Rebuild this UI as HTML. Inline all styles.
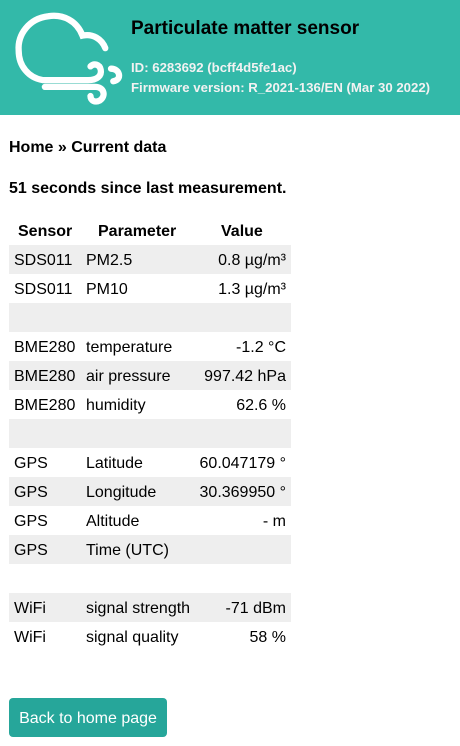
<!DOCTYPE html>
<html><head><meta charset="utf-8"><style>
*{margin:0;padding:0;box-sizing:border-box}
body{width:460px;height:746px;background:#fff;font-family:"Liberation Sans",sans-serif;color:#000;position:relative;overflow:hidden}
.hdr{position:absolute;left:0;top:0;width:460px;height:115px;background:#33b9a9}
.t{position:absolute;white-space:nowrap}
.row{position:absolute;left:9px;width:282px;height:29px}
.g{background:#eee}
.c{position:absolute;top:7px;font-size:16px;white-space:nowrap}
.c1{left:5px}.c2{left:77px}.c3{right:5px}
</style></head><body>
<div class="hdr">
<svg style="position:absolute;left:0;top:0" width="125" height="115" viewBox="0 0 125 115">
<g fill="none" stroke="#fff" stroke-width="5.5" stroke-linecap="round" transform="translate(-3,-2) scale(1.14)">
<path d="M95 44 C92 36 84 31 75 33 C70 20 58 14 45 16 C28 18 18 32 19 46 C19 60 28 70 40 72 L80 72 C88 72 92 68 91 63 C90 58 85 57 82 60"/>
<path d="M42 78 L86 78 C94 78 96 86 90 90 C86 92 82 90 82 86"/>
<path d="M100 62 C108 62 110 72 102 73"/>
</g></svg>
<div class="t" style="left:131px;top:18px;font-size:19px;font-weight:bold">Particulate matter sensor</div>
<div class="t" style="left:131px;top:60px;font-size:13.2px;font-weight:bold;color:#f2f2f2">ID: 6283692 (bcff4d5fe1ac)</div>
<div class="t" style="left:131px;top:80px;font-size:13.2px;font-weight:bold;color:#f2f2f2">Firmware version: R_2021-136/EN (Mar 30 2022)</div>
</div>
<div class="t" style="left:9px;top:139px;font-size:16px;font-weight:bold">Home » Current data</div>
<div class="t" style="left:9px;top:180px;font-size:16px;font-weight:bold">51 seconds since last measurement.</div>
<div class="row" style="top:216px">
<div class="c" style="left:9px;font-weight:bold">Sensor</div>
<div class="c" style="left:89px;font-weight:bold">Parameter</div>
<div class="c" style="left:212px;font-weight:bold">Value</div>
</div>
<div id="tbl"></div>
<div class="t" style="left:9px;top:698px;width:158px;height:39px;background:#26a69a;border-radius:4px;color:#fff;font-size:16px;line-height:41px;text-align:center">Back to home page</div>
<script>
const sensors=["SDS011","SDS011","","BME280","BME280","BME280","","GPS","GPS","GPS","GPS","","WiFi","WiFi"];
const params=["PM2.5","PM10","","temperature","air pressure","humidity","","Latitude","Longitude","Altitude","Time (UTC)","","signal strength","signal quality"];
const values=["0.8 µg/m³","1.3 µg/m³","","-1.2 °C","997.42 hPa","62.6 %","","60.047179 °","30.369950 °","- m","","","-71 dBm","58 %"];
const tbl=document.getElementById('tbl');
sensors.forEach((s,i)=>{
const r=document.createElement('div');
r.className='row'+(i%2==0?' g':'');
r.style.top=(245+i*29)+'px';


r.innerHTML='<div class="c c1">'+s+'</div><div class="c c2">'+params[i]+'</div><div class="c c3">'+values[i]+'</div>';
tbl.appendChild(r);
});
</script>
</body></html>
